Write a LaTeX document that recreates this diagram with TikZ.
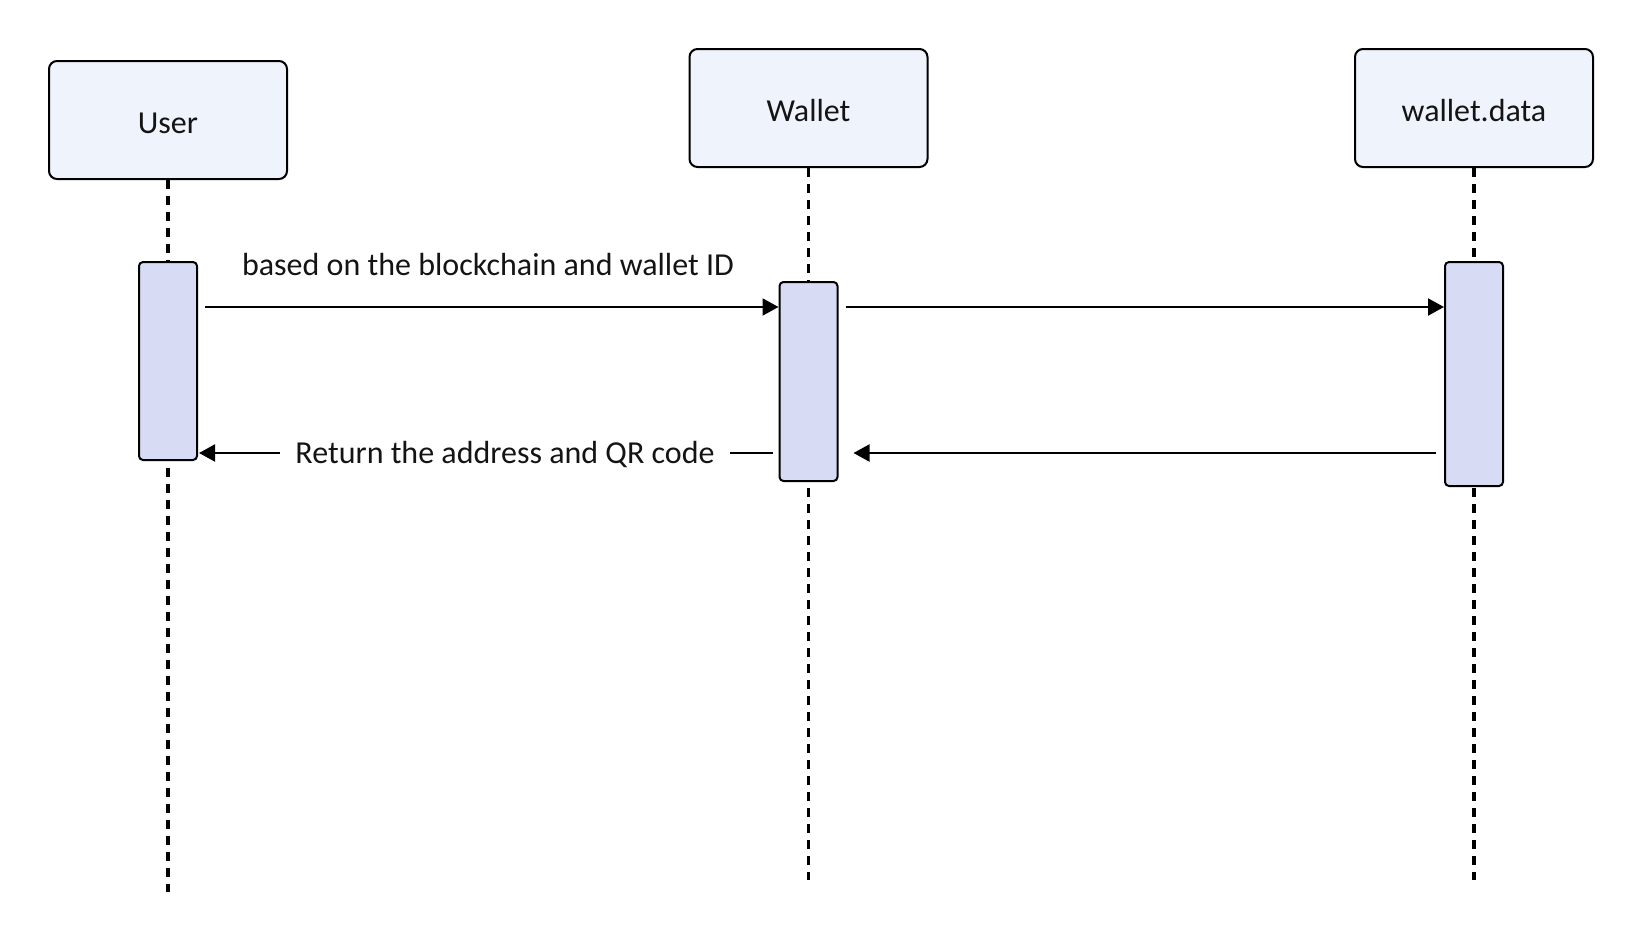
\documentclass[tikz,border=0pt]{standalone}
\usepackage{fontspec}
\setmainfont{Carlito}
\usetikzlibrary{arrows.meta}
\definecolor{boxfill}{HTML}{EFF3FC}
\definecolor{actfill}{HTML}{D7DCF4}
\definecolor{txt}{HTML}{141414}
\begin{document}
\begin{tikzpicture}[x=1pt,y=-1pt,
 actor/.style={draw=black, line width=2pt, fill=boxfill, rounded corners=8pt, minimum width=238pt, minimum height=118pt, inner sep=0pt, text height=27pt, text depth=1pt, font=\fontsize{32}{38}\selectfont, text=txt},
 act/.style={draw=black, line width=2pt, fill=actfill, rounded corners=4pt, minimum width=58pt, inner sep=0pt},
 life/.style={line width=3.6pt, dash pattern=on 8.5pt off 7.5pt},
 msg/.style={line width=2pt, -{Triangle[length=16pt,width=17pt]}},
 lbl/.style={font=\fontsize{32}{38}\selectfont, text=txt, inner sep=2pt}
]
\useasboundingbox (0,0) rectangle (1642,948);
\node[actor] (user) at (168,120) {User};
\node[actor] (wallet) at (808.5,108) {Wallet};
\node[actor] (data) at (1474,108) {wallet.data};
\coordinate (uend) at (168,892);
\coordinate (wend) at (808.5,880);
\coordinate (dend) at (1474,880);
\draw[life] (user.south) -- (uend);
\draw[life] (wallet.south) -- (wend);
\draw[life] (data.south) -- (dend);
\node[act, minimum height=198pt] (ua) at (168,361) {};
\node[act, minimum height=199pt] (wa) at (808.5,381.5) {};
\node[act, minimum height=224pt] (da) at (1474,374) {};
\coordinate (y1) at (0,307);
\coordinate (y2) at (0,453);
\draw[msg, shorten <=7pt] (ua.east |- y1) -- (wa.west |- y1);
\node[lbl] (lab1) at (488,265) {based on the blockchain and wallet ID};
\draw[msg, shorten <=7pt] (wa.east |- y1) -- (da.west |- y1);
\draw[msg, shorten <=8pt, shorten >=15pt] (da.west |- y2) -- (wa.east |- y2);
\draw[msg, shorten <=6pt, shorten >=1pt] (wa.west |- y2) -- (ua.east |- y2);
\node[lbl, fill=white, inner xsep=15pt] (lab2) at (505,455) {Return the address and QR code};
\end{tikzpicture}
\end{document}
